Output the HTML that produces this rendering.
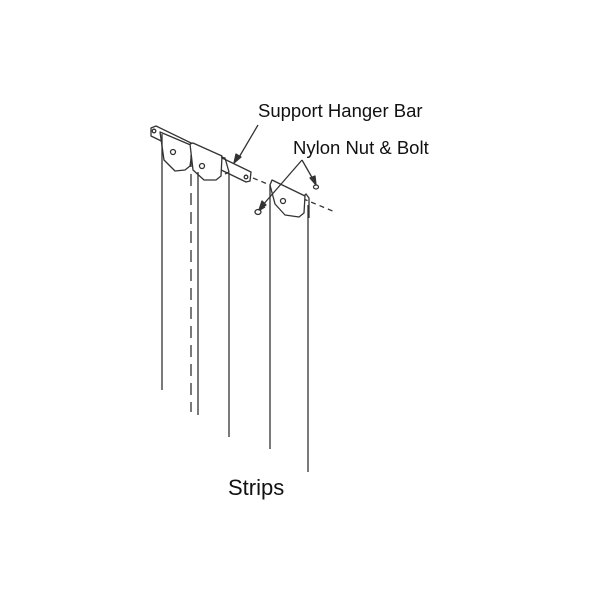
<!DOCTYPE html>
<html><head><style>body{margin:0;background:#fff}svg{display:block}</style></head>
<body>
<svg width="600" height="600" viewBox="0 0 600 600" xmlns="http://www.w3.org/2000/svg">
<g stroke="#333" stroke-width="1.3" fill="none" stroke-linejoin="round">
<!-- bar -->
<path d="M151,128 L156,126 L251,172 L250,181 L246,182 L151,136 Z"/>
<circle cx="154" cy="131" r="1.8"/>
<circle cx="246" cy="177" r="1.8"/>
<!-- hanger plates -->
<path d="M160,132 L193,146 L190,166 L185,170 L175,171 L164,160 Z" fill="#fff"/>
<circle cx="173" cy="152" r="2.5"/>
<path d="M190,144 L193,143 L222,156 L221,176 L216,180 L204,180 L193,170 Z" fill="#fff"/>
<circle cx="202" cy="166" r="2.5"/>
<path d="M221,157 L225,158 L229,172 L225,174"/>
<!-- strips left -->
<line x1="162" y1="134" x2="162" y2="390"/>
<line x1="191" y1="155" x2="191" y2="412" stroke-dasharray="12,7"/>
<line x1="198" y1="172" x2="198" y2="415"/>
<line x1="229" y1="173" x2="229" y2="437"/>
<!-- dashed axis -->
<line x1="253" y1="178" x2="335" y2="212" stroke-dasharray="5,4"/>
<!-- right bracket -->
<path d="M270,185 L272,180 L305,196 L304,213 L299,217 L285,215 L275,204 Z" fill="#fff"/>
<circle cx="283" cy="201" r="2.5"/>
<path d="M304,196 L306,194 L309,198 L309,218"/>
<line x1="270" y1="185" x2="270" y2="449"/>
<line x1="308" y1="205" x2="308" y2="472"/>
<!-- bolt & nut -->
<ellipse cx="258" cy="212" rx="3" ry="2.5"/>
<path d="M260,210 L265,207"/>
<ellipse cx="316" cy="187" rx="2.5" ry="2"/>
<!-- arrows -->
<line x1="258" y1="125" x2="238" y2="159"/>
<path d="M234,163 L236,154 L241,157 Z" fill="#333"/>
<line x1="302" y1="160" x2="262" y2="206"/>
<path d="M259,210 L262,201 L266,205 Z" fill="#333"/>
<line x1="302" y1="160" x2="314" y2="181"/>
<path d="M316,185 L310,178 L315,176 Z" fill="#333"/>
</g>
<g font-family="'Liberation Sans', sans-serif" fill="#111">
<text x="258" y="117" font-size="18.5">Support Hanger Bar</text>
<text x="293" y="154" font-size="18.5">Nylon Nut &amp; Bolt</text>
<text x="228" y="495" font-size="22">Strips</text>
</g>
</svg>
</body></html>
